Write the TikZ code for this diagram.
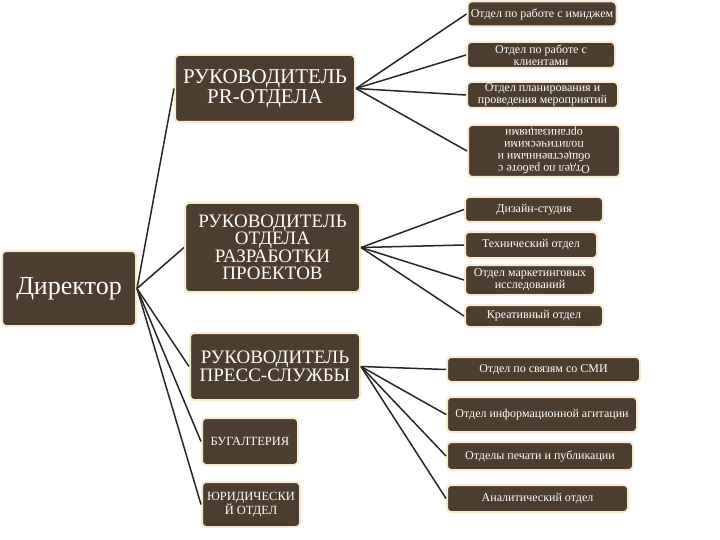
\documentclass[tikz,border=0pt]{standalone}
\usepackage{fontspec}
\setmainfont{Liberation Serif}
\definecolor{boxbrown}{RGB}{76,61,47}
\definecolor{halo}{RGB}{246,234,212}
\definecolor{wire}{RGB}{40,38,36}

\begin{document}
\begin{tikzpicture}[x=1pt, y=-1pt,
  every node/.style={rectangle, rounded corners=4pt, fill=boxbrown, draw=halo, line width=2pt,
    text=white, align=center, inner sep=1pt},
  head/.style={font=\fontsize{19}{17.5}\selectfont},
  sub/.style={font=\fontsize{12}{12}\selectfont},
  wire/.style={draw=wire, line width=1.5pt}]
  \useasboundingbox (0,0) rectangle (720,540);
  % left column
  \node (dir) at (69, 288.5) [minimum width=134pt, minimum height=75pt, font=\fontsize{26}{26}\selectfont] {Директор};
  \node (pr) at (265, 88.5) [head, minimum width=180pt, minimum height=67pt, font=\fontsize{21}{20}\selectfont] {РУКОВОДИТЕЛЬ\\PR-ОТДЕЛА};
  \node (dev) at (272.5, 247.5) [head, minimum width=175pt, minimum height=89pt] {РУКОВОДИТЕЛЬ\\ОТДЕЛА\\РАЗРАБОТКИ\\ПРОЕКТОВ};
  \node (press) at (275, 366.5) [head, minimum width=170pt, minimum height=67pt] {РУКОВОДИТЕЛЬ\\ПРЕСС-СЛУЖБЫ};
  \node (buh) at (250, 441.5) [sub, minimum width=96pt, minimum height=47pt, font=\fontsize{12.5}{13}\selectfont] {БУГАЛТЕРИЯ};
  \node (yur) at (251, 504.5) [sub, minimum width=98pt, minimum height=45pt, font=\fontsize{12.5}{13}\selectfont] {ЮРИДИЧЕСКИ\\Й ОТДЕЛ};
  % PR departments
  \node (pr1) at (542, 14) [sub, minimum width=149pt, minimum height=25pt] {Отдел по работе с имиджем};
  \node (pr2) at (541, 55) [sub, minimum width=148pt, minimum height=26pt] {Отдел по работе с\\клиентами};
  \node (pr3) at (542.5, 95) [sub, minimum width=151pt, minimum height=26pt] {Отдел планирования и\\проведения мероприятий};
  \node (pr4) at (544, 151) [sub, rotate=180, minimum width=152pt, minimum height=52pt] {Отдел по работе с\\общественными и\\политическими\\организациями};
  % development departments
  \node (dev1) at (534, 209.5) [sub, minimum width=138pt, minimum height=25pt] {Дизайн-студия};
  \node (dev2) at (531, 245) [sub, minimum width=132pt, minimum height=26pt] {Технический отдел};
  \node (dev3) at (530, 280) [sub, minimum width=130pt, minimum height=30pt] {Отдел маркетинговых\\исследований};
  \node (dev4) at (534, 316) [sub, minimum width=138pt, minimum height=22pt] {Креативный отдел};
  % press departments
  \node (pr5) at (543.5, 369.5) [sub, minimum width=193pt, minimum height=25pt] {Отдел по связям со СМИ};
  \node (pr6) at (542, 414.5) [sub, minimum width=190pt, minimum height=35pt] {Отдел информационной агитации};
  \node (pr7) at (540, 456) [sub, minimum width=186pt, minimum height=28pt] {Отделы печати и публикации};
  \node (pr8) at (537.5, 498.5) [sub, minimum width=181pt, minimum height=27pt] {Аналитический отдел};
  % connectors
  \foreach \t in {pr, dev, press, buh, yur}
    \draw[wire] (dir.east) -- (\t.west);
  \foreach \t in {pr1, pr2, pr3}
    \draw[wire] (pr.east) -- (\t.west);
  \draw[wire] (pr.east) -- (pr4.east);
  \foreach \t in {dev1, dev2, dev3, dev4}
    \draw[wire] (dev.east) -- (\t.west);
  \foreach \t in {pr5, pr6, pr7, pr8}
    \draw[wire] (press.east) -- (\t.west);
\end{tikzpicture}
\end{document}
